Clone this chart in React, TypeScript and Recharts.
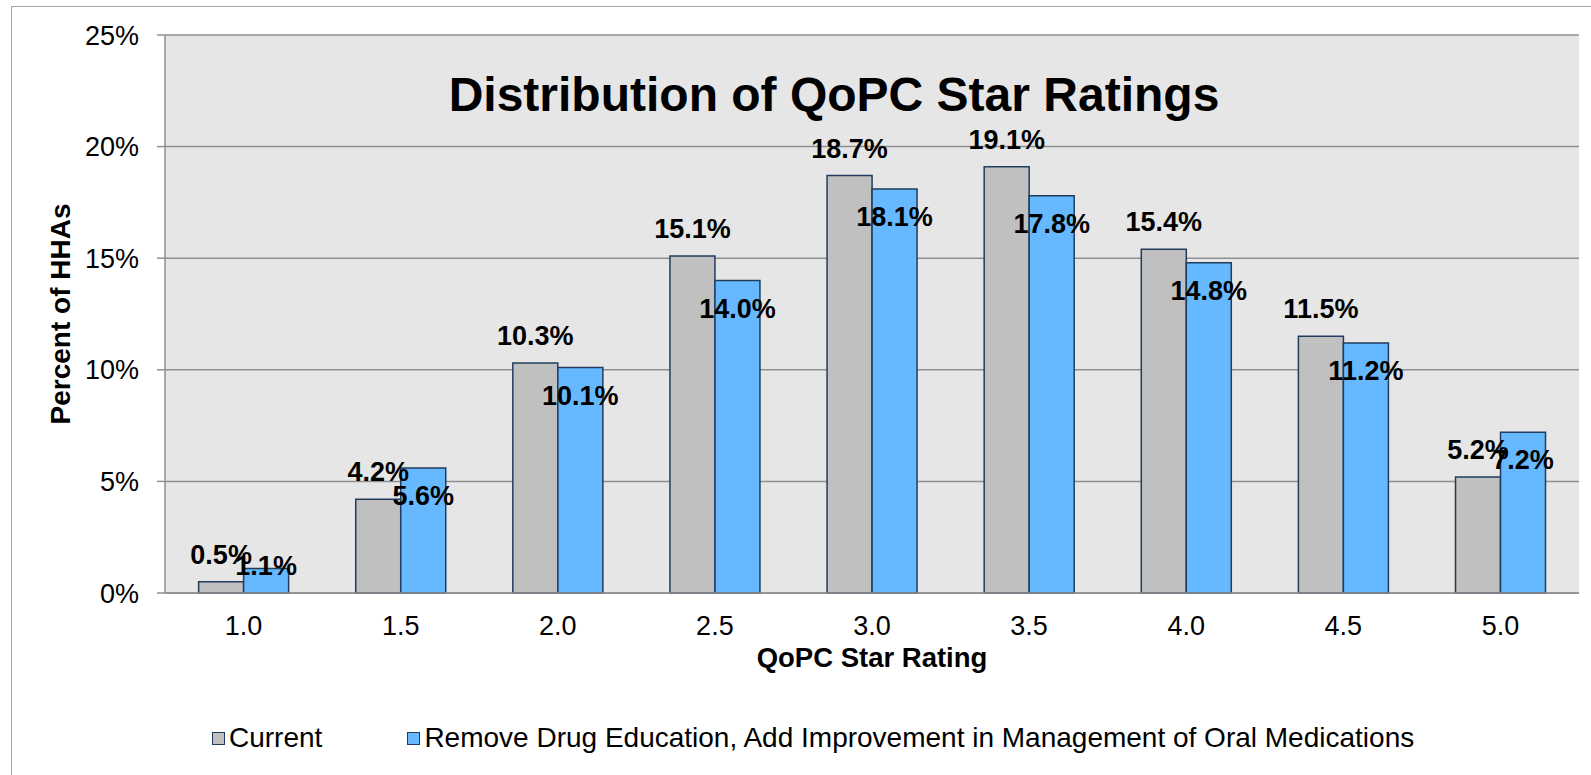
import React from 'react';
import {
  BarChart,
  Bar,
  XAxis,
  YAxis,
  CartesianGrid,
  Legend,
  LabelList
} from 'recharts';

const ratings = ['1.0', '1.5', '2.0', '2.5', '3.0', '3.5', '4.0', '4.5', '5.0'];
const currentPct = [0.5, 4.2, 10.3, 15.1, 18.7, 19.1, 15.4, 11.5, 5.2];
const proposedPct = [1.1, 5.6, 10.1, 14.0, 18.1, 17.8, 14.8, 11.2, 7.2];
const yTicks = [0, 5, 10, 15, 20, 25];
const boundaryTicks = [0, 1, 2, 3, 4, 5, 6, 7, 8, 9];

const seriesNames = {
  current: 'Current',
  proposed: 'Remove Drug Education, Add Improvement in Management of Oral Medications'
};

const data = ratings.map((r, i) => ({
  rating: r,
  current: currentPct[i],
  proposed: proposedPct[i]
}));

const FONT = '"Liberation Sans", Arial, sans-serif';
const GRID = '#8f8f8f';
const EDGE = '#213c5e';

const fmt = (v: number) => `${v.toFixed(1)}%`;

// grey labels sit above the bar, blue ones inside near the top (kept above the axis)
const CurrentLabel = (props: any) => {
  const { x, y, width, value } = props;
  return (
    <text x={x + width / 2} y={y - 18} textAnchor="middle" fontFamily={FONT} fontSize={27} fontWeight="bold" fill="#000">
      {fmt(value)}
    </text>
  );
};

const ProposedLabel = (props: any) => {
  const { x, y, width, height, value } = props;
  const base = Math.min(y + 37, y + height - 18);
  return (
    <text x={x + width / 2} y={base} textAnchor="middle" fontFamily={FONT} fontSize={27} fontWeight="bold" fill="#000">
      {fmt(value)}
    </text>
  );
};

const renderLegend = (props: any) => {
  const { payload } = props;
  return (
    <div style={{ display: 'flex', fontFamily: FONT, fontSize: 28, lineHeight: '30px', color: '#000', whiteSpace: 'nowrap' }}>
      {payload.map((p: any, i: number) => (
        <div key={p.value} style={{ display: 'flex', alignItems: 'center', marginRight: i === 0 ? 85 : 0 }}>
          <span style={{ width: 11, height: 11, background: p.color, border: `1.5px solid ${EDGE}`, marginRight: 4 }} />
          <span>{p.value}</span>
        </div>
      ))}
    </div>
  );
};

const App: React.FC = () => {
  return (
    <div style={{ position: 'absolute', left: 0, top: 0, width: 1591, height: 775, overflow: 'hidden', background: '#fff' }}>
      <div style={{ position: 'absolute', left: 11, top: 6, width: 1620, height: 820, border: '1.5px solid #a6a6a6' }} />
      <BarChart
        width={1591}
        height={775}
        data={data}
        margin={{ top: 35, right: 12, bottom: 102, left: 0 }}
        barCategoryGap="21.4%"
        barGap={0}
      >
        <CartesianGrid vertical={false} stroke={GRID} strokeWidth={1.5} fill="#e6e6e6" />
        <XAxis
          xAxisId="bounds"
          type="number"
          domain={[0, 9]}
          ticks={boundaryTicks}
          allowDataOverflow
          height={0}
          tick={false}
          tickSize={8}
          tickLine={{ stroke: GRID, strokeWidth: 1.5 }}
          axisLine={false}
        />
        <XAxis
          dataKey="rating"
          height={80}
          tickLine={false}
          tickSize={8}
          tickMargin={15}
          axisLine={{ stroke: GRID, strokeWidth: 1.5 }}
          tick={{ fill: '#000', fontSize: 27, fontFamily: FONT }}
          label={(p: any) => {
            const vb = p.viewBox;
            return (
              <text x={vb.x + vb.width / 2} y={vb.y + 74} textAnchor="middle" fontFamily={FONT} fontSize={27.5} fontWeight="bold" fill="#000">
                QoPC Star Rating
              </text>
            );
          }}
        />
        <YAxis
          width={165}
          domain={[0, 25]}
          ticks={yTicks}
          tickFormatter={(v) => `${v}%`}
          tickSize={8}
          tickMargin={18}
          axisLine={{ stroke: GRID, strokeWidth: 1.5 }}
          tickLine={{ stroke: GRID, strokeWidth: 1.5 }}
          tick={{ fill: '#000', fontSize: 27, fontFamily: FONT }}
          label={(p: any) => {
            const vb = p.viewBox;
            const cy = vb.y + vb.height / 2;
            return (
              <text transform={`translate(${vb.x + 70}, ${cy}) rotate(-90)`} textAnchor="middle" fontFamily={FONT} fontSize={28} fontWeight="bold" fill="#000">
                Percent of HHAs
              </text>
            );
          }}
        />
        <Legend
          layout="horizontal"
          verticalAlign="middle"
          align="center"
          content={renderLegend}
          wrapperStyle={{ left: 212, top: 723, width: 'auto' }}
        />
        <Bar dataKey="current" name={seriesNames.current} fill="#c0c0c0" stroke={EDGE} strokeWidth={1.5} isAnimationActive={false}>
          <LabelList dataKey="current" content={CurrentLabel} />
        </Bar>
        <Bar dataKey="proposed" name={seriesNames.proposed} fill="#66b9ff" stroke={EDGE} strokeWidth={1.5} isAnimationActive={false}>
          <LabelList dataKey="proposed" content={ProposedLabel} />
        </Bar>
      </BarChart>
      <div
        style={{
          position: 'absolute',
          left: 334,
          top: 71,
          width: 1000,
          textAlign: 'center',
          fontFamily: FONT,
          fontSize: 48,
          fontWeight: 'bold',
          lineHeight: '48px',
          color: '#000'
        }}
      >
        Distribution of QoPC Star Ratings
      </div>
    </div>
  );
};

export default App;
